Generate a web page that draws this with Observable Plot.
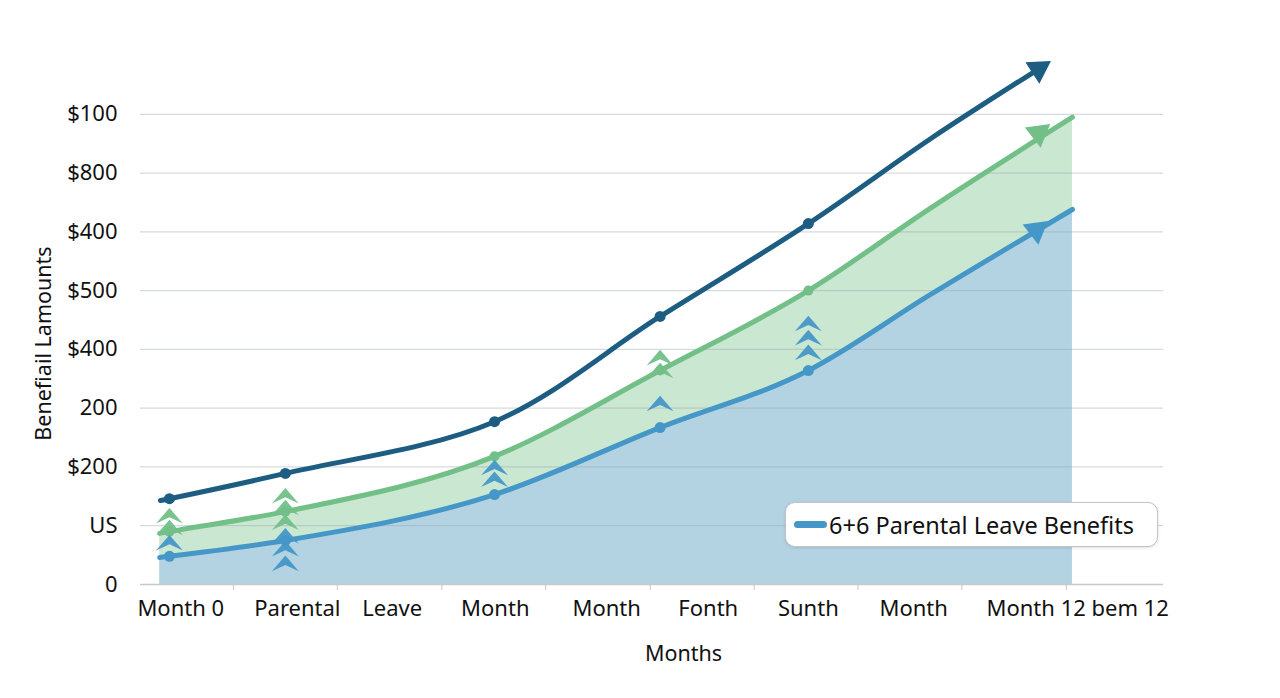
<!DOCTYPE html>
<html>
<head>
<meta charset="utf-8">
<script src="https://cdn.jsdelivr.net/npm/d3@7"></script>
<script src="https://cdn.jsdelivr.net/npm/@observablehq/plot@0.6"></script>
<style>
  html, body { margin: 0; padding: 0; background: #fff; }
  #wrap { position: relative; width: 1280px; height: 698px; font-family: "Noto Sans", "Open Sans", sans-serif; }
  #legend {
    position: absolute; left: 785px; top: 502px; width: 373px; height: 45px;
    border: 1.5px solid #c4c4c4; border-radius: 10px; background: #fff;
    box-shadow: 0 1px 3px rgba(0,0,0,0.12);
    display: flex; align-items: center; box-sizing: border-box; padding-left: 8px;
    font-size: 23.5px; color: #111;
  }
  #legend .sw { width: 33px; height: 7px; border-radius: 4px; background: #4597c7; margin-right: 2px; }
</style>
</head>
<body>
<div id="wrap"></div>
<script>
// ---- data (x in months, y in axis units) ----
const lineMonths = [-0.13, 0, 1.54, 4.32, 6.52, 8.49, 10.11, 12];
const darkMonths = [-0.12, 0, 1.54, 4.32, 6.52, 8.49, 10.11, 11.55];
const darkValues = [1.43, 1.46, 1.89, 2.77, 4.56, 6.14, 7.58, 8.77];
const greenValues = [0.87, 0.90, 1.24, 2.18, 3.64, 5.00, 6.40, 7.95];
const blueValues = [0.46, 0.48, 0.75, 1.53, 2.67, 3.64, 4.93, 6.38];

const chevronMonths = [0, 0, 1.54, 1.54, 1.54, 6.52, 6.52,
                       0, 1.54, 1.54, 1.54, 4.32, 4.32, 6.52, 8.49, 8.49, 8.49];
const chevronValues = [1.17, 0.97, 1.51, 1.31, 1.06, 3.86, 3.64,
                       0.71, 0.83, 0.61, 0.36, 1.99, 1.79, 3.08, 4.44, 4.20, 3.95];
const chevronSeries = ["green","green","green","green","green","green","green",
                       "blue","blue","blue","blue","blue","blue","blue","blue","blue","blue"];

const arrowMonths = [11.55, 11.55, 11.52];
const arrowValues = [8.77, 7.68, 6.03];
const arrowSeries = ["dark", "green", "blue"];

const yTickValues = [0, 1, 2, 3, 4, 5, 6, 7, 8];
const yTickLabels = ["0", "US", "$200", "200", "$400", "$500", "$400", "$800", "$100"];
const xLabelMonths = [0.15, 1.70, 2.96, 4.33, 5.81, 7.16, 8.49, 9.89, 12.07];
const xLabels = ["Month 0", "Parental", "Leave", "Month", "Month", "Fonth", "Sunth", "Month", "Month 12 bem 12"];
const xTickMonths = [0.85, 2.23, 3.62, 5.00, 6.39, 7.77, 9.15, 10.53, 11.92];

const legendLabel = "6+6 Parental Leave Benefits";
const yTitle = "Benefiail Lamounts";
const xTitle = "Months";

// ---- derived tables ----
const bands = lineMonths.map((m, i) => ({m, green: greenValues[i], blue: blueValues[i]}));
const dark = darkMonths.map((m, i) => ({m, v: darkValues[i]}));
const dotsDark = dark.slice(1, 6);
const dotsGreen = bands.slice(1, 6);
const dotsBlue = bands.slice(1, 6);
const chevrons = chevronMonths.map((m, i) => ({m, v: chevronValues[i], s: chevronSeries[i]}));
const arrows = arrowMonths.map((m, i) => ({m, v: arrowValues[i], s: arrowSeries[i]}));

const C = {dark: "#1d5d82", green: "#72c088", blue: "#4597c7"};
const TEXT = "#111";

const chevron = {
  draw(ctx, size) {
    const s = Math.sqrt(size);
    const w = s * 0.95, h = s * 0.55;
    ctx.moveTo(0, -h);
    ctx.lineTo(w, h);
    ctx.lineTo(0, h * 0.2);
    ctx.lineTo(-w, h);
    ctx.closePath();
  }
};

const curve = "monotone-x";

const chart = Plot.plot({
  width: 1280,
  height: 698,
  marginLeft: 140,
  marginRight: 117,
  marginTop: 55,
  marginBottom: 114,
  style: {fontFamily: "'Noto Sans', 'Open Sans', sans-serif", fontSize: "22px", color: TEXT, background: "#fff"},
  x: {domain: [-0.385, 13.21]},
  y: {domain: [0, 9]},
  marks: [
    Plot.areaY(bands, {x: "m", y1: 0, y2: "blue", curve, fill: "#b3d3e3"}),
    Plot.areaY(bands, {x: "m", y1: "blue", y2: "green", curve, fill: "#cae7d2"}),
    Plot.ruleY(yTickValues.slice(1), {stroke: "#9aa3a8", strokeOpacity: 0.4, strokeWidth: 1.2}),
    Plot.ruleY([0], {stroke: "#c8c8c8", strokeWidth: 1.5}),
    Plot.axisY({ticks: yTickValues, tickFormat: (d) => yTickLabels[d], tickSize: 0, tickPadding: 23, label: null, fontSize: 22, fill: TEXT}),
    Plot.axisX({ticks: xTickMonths, tickFormat: () => "", tickSize: 6, stroke: "#c8c8c8", label: null}),
    Plot.axisX({ticks: xLabelMonths, tickFormat: (d) => xLabels[xLabelMonths.indexOf(d)], tickSize: 0, tickPadding: 16, label: null, fontSize: 22, fill: TEXT}),
    Plot.line(bands, {x: "m", y: "blue", curve, stroke: C.blue, strokeWidth: 5, strokeLinecap: "round"}),
    Plot.line(bands, {x: "m", y: "green", curve, stroke: C.green, strokeWidth: 5, strokeLinecap: "round"}),
    Plot.line(dark, {x: "m", y: "v", curve: "catmull-rom", stroke: C.dark, strokeWidth: 5, strokeLinecap: "round"}),
    Plot.dot(dotsBlue, {x: "m", y: "blue", r: 5.5, fill: C.blue}),
    Plot.dot(dotsGreen, {x: "m", y: "green", r: 5, fill: C.green}),
    Plot.dot(dotsDark, {x: "m", y: "v", r: 5.5, fill: C.dark}),
    Plot.dot(chevrons, {x: "m", y: "v", r: 8, symbol: chevron, fill: (d) => C[d.s], fillOpacity: 0.95, stroke: "none"}),
    Plot.dot(arrows, {x: "m", y: "v", r: 9.5, symbol: "triangle", fill: (d) => C[d.s], stroke: "none",
      rotate: (d) => d.s === "dark" ? 57 : 172}),
    Plot.text([yTitle], {frameAnchor: "left", dx: -96, dy: 23.5, rotate: -90, fontSize: 21.5, fill: TEXT, textAnchor: "middle", lineAnchor: "middle"}),
    Plot.text([xTitle], {frameAnchor: "bottom", dx: 31.5, dy: 70, fontSize: 21.5, fill: TEXT, lineAnchor: "middle"})
  ]
});

const wrap = document.getElementById("wrap");
wrap.appendChild(chart);
const legend = document.createElement("div");
legend.id = "legend";
legend.innerHTML = `<span class="sw"></span><span></span>`;
legend.lastChild.textContent = legendLabel;
wrap.appendChild(legend);
</script>
</body>
</html>
